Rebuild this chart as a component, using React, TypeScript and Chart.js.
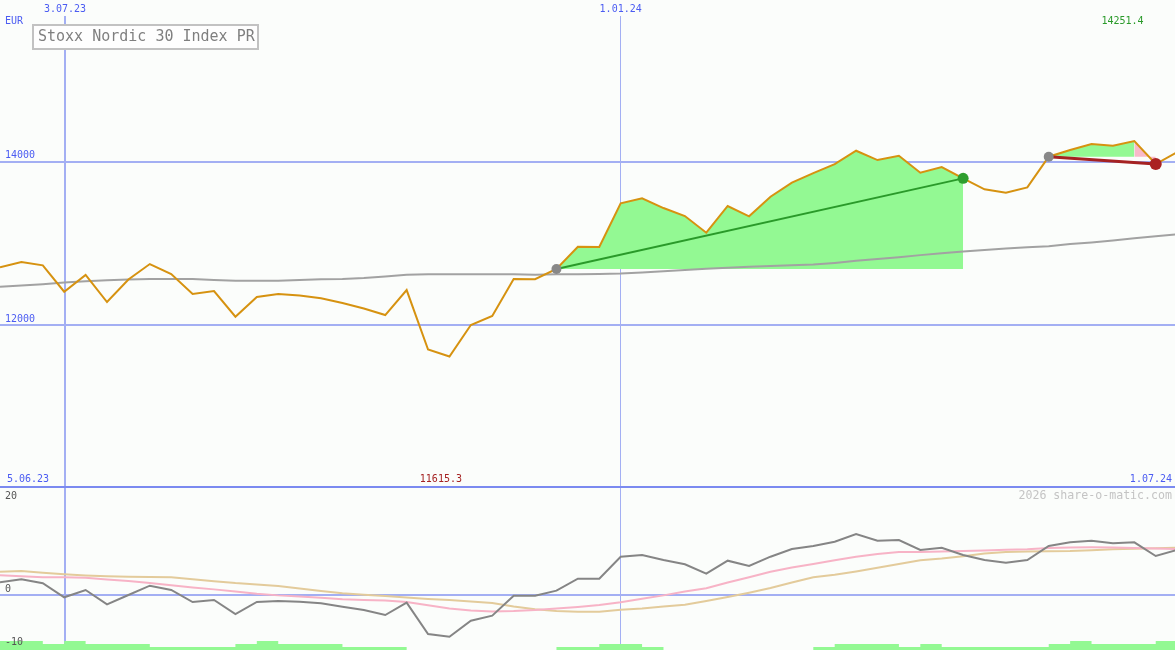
import { useEffect, useRef } from 'react';
import Chart from 'chart.js/auto';

const MONO = '"DejaVu Sans Mono", "Liberation Mono", monospace';
const BLUE_TEXT = '#4b5cf2';
const GRID = '#a3aff3';

// x axis is in weeks, week 0 ~ mid June 2023
const weeksShown = 54.9;
const dateTicks = [3.04, 29];
const dateLabels = ['3.07.23', '1.01.24'];
const dateLineWidths = [2, 1];

const priceTicks = [12000, 14000];

// weekly closes
const closes = [
  12706, 12771, 12730, 12407, 12612, 12281, 12557, 12746, 12624, 12379,
  12416, 12102, 12343, 12379, 12361, 12327, 12269, 12202, 12122, 12428,
  11700, 11615, 12000, 12110, 12563, 12560, 12685, 12958, 12955, 13489,
  13550, 13431, 13333, 13129, 13456, 13330, 13569, 13741, 13859, 13969,
  14132, 14018, 14071, 13863, 13933, 13794, 13660, 13618, 13684, 14059,
  14141, 14214, 14193, 14251, 13969, 14113,
];

const movingAvg = [
  12469, 12485, 12500, 12520, 12535, 12548, 12558, 12563, 12563, 12563,
  12550, 12542, 12542, 12542, 12550, 12560, 12563, 12575, 12595, 12615,
  12620, 12620, 12620, 12620, 12620, 12615, 12620, 12622, 12625, 12630,
  12644, 12658, 12673, 12687, 12701, 12713, 12722, 12731, 12740, 12760,
  12785, 12808, 12830, 12855, 12877, 12900, 12917, 12935, 12950, 12965,
  12990, 13010, 13035, 13060, 13085, 13110,
];

// trade signals (week index)
const entryWeeks = [26, 49];
const exitWeeks = [45, 54];

// lower panel
const momentum = [
  2.65, 3.27, 2.44, -0.48, 1.04, -1.94, 0, 1.94, 1.04, -1.46,
  -1.04, -3.96, -1.46, -1.25, -1.4, -1.73, -2.44, -3.13, -4.17, -1.6,
  -8.13, -8.69, -5.35, -4.31, -0.15, -0.15, 0.9, 3.4, 3.4, 7.98,
  8.33, 7.29, 6.4, 4.44, 7.15, 6.04, 7.98, 9.58, 10.21, 11.1,
  12.71, 11.31, 11.46, 9.38, 9.85, 8.33, 7.29, 6.73, 7.29, 10.21,
  10.98, 11.31, 10.77, 10.98, 8.13, 9.38,
];

const signalFast = [
  4.1, 3.9, 3.7, 3.7, 3.6, 3.25, 2.9, 2.5, 2.04, 1.56,
  1.17, 0.73, 0.25, -0.08, -0.29, -0.56, -0.88, -1.04, -1.17, -1.44,
  -2.15, -2.79, -3.21, -3.42, -3.33, -3.13, -2.83, -2.5, -2.08, -1.5,
  -0.79, -0.08, 0.71, 1.42, 2.6, 3.71, 4.85, 5.73, 6.44, 7.25,
  7.96, 8.52, 8.96, 8.96, 9.06, 9.19, 9.29, 9.42, 9.54, 9.79,
  9.92, 9.94, 9.92, 9.81, 9.67, 9.58,
];

const signalSlow = [
  4.85, 5.0, 4.65, 4.33, 4.08, 3.9, 3.79, 3.73, 3.69, 3.29,
  2.88, 2.48, 2.21, 1.85, 1.33, 0.85, 0.38, 0.04, -0.23, -0.52,
  -0.81, -1.04, -1.35, -1.67, -2.42, -2.98, -3.33, -3.48, -3.48, -3.08,
  -2.83, -2.42, -2.02, -1.23, -0.42, 0.48, 1.46, 2.6, 3.69, 4.23,
  4.9, 5.67, 6.46, 7.23, 7.6, 8.08, 8.63, 8.94, 9.06, 9.13,
  9.17, 9.33, 9.54, 9.65, 9.75, 9.85,
];

// volume level per week (drawn as steps)
const volumeSteps = [
  3, 3, 2, 3, 2, 2, 2, 1, 1, 1,
  1, 2, 3, 2, 2, 2, 1, 1, 1, 0,
  0, 0, 0, 0, 0, 0, 1, 1, 2, 2,
  1, 0, 0, 0, 0, 0, 0, 0, 1, 2,
  2, 2, 1, 2, 1, 1, 1, 1, 1, 2,
  3, 2, 2, 2, 3,
];

const pts = (values: number[], from = 0) => values.map((y, i) => ({ x: i + from, y }));
const NONE = 'rgba(0,0,0,0)';

// scales must not reserve room for their labels: the plot fills the canvas
const noPadding = (s: any) => {
  s.paddingTop = 0;
  s.paddingBottom = 0;
  s.paddingLeft = 0;
  s.paddingRight = 0;
};

const xAxis = (position: 'top' | 'bottom', height: number) => ({
  type: 'linear' as const,
  position,
  min: 0,
  max: weeksShown,
  afterFit: (s: any) => { s.height = height; noPadding(s); },
  afterBuildTicks: (s: any) => { s.ticks = dateTicks.map((value) => ({ value })); },
  grid: {
    color: GRID,
    lineWidth: (ctx: any) => dateLineWidths[ctx.index] ?? 1,
    drawTicks: false,
  },
  border: { display: false },
  ticks: {
    display: position === 'top',
    padding: 1,
    maxRotation: 0,
    autoSkip: false,
    color: BLUE_TEXT,
    font: { family: MONO, size: 10 },
    callback: (_v: any, i: number) => dateLabels[i],
  },
});

const topText = {
  id: 'topText',
  afterDraw(chart: any) {
    const { ctx, chartArea, scales } = chart;
    ctx.save();
    ctx.font = `10px ${MONO}`;
    ctx.textBaseline = 'middle';
    ctx.fillStyle = BLUE_TEXT;
    ctx.textAlign = 'left';
    ctx.fillText('EUR', 5, 21);
    ctx.fillText('5.06.23', 7, chartArea.bottom - 7);
    ctx.textAlign = 'right';
    ctx.fillText('1.07.24', 1172, chartArea.bottom - 7);
    ctx.textAlign = 'center';
    ctx.fillStyle = '#2a9a2a';
    ctx.fillText('14251.4', scales.x.getPixelForValue(52.45), 21);
    ctx.fillStyle = '#a52222';
    ctx.fillText('11615.3', scales.x.getPixelForValue(20.6), chartArea.bottom - 7);

    // title box
    ctx.fillStyle = '#fefefe';
    ctx.fillRect(33, 25, 225, 24);
    ctx.strokeStyle = '#c2c2c2';
    ctx.lineWidth = 2;
    ctx.strokeRect(33, 25, 225, 24);
    ctx.font = `15px ${MONO}`;
    ctx.fillStyle = '#7f7f7f';
    ctx.textAlign = 'left';
    ctx.fillText('Stoxx Nordic 30 Index PR', 38, 37.5);
    ctx.restore();
  },
};

const bottomText = {
  id: 'bottomText',
  afterDraw(chart: any) {
    const { ctx, chartArea } = chart;
    ctx.save();
    ctx.textBaseline = 'middle';
    ctx.font = `10px ${MONO}`;
    ctx.fillStyle = '#555555';
    ctx.textAlign = 'left';
    ctx.fillText('20', 5, chartArea.top + 8);
    ctx.fillText('-10', 5, chartArea.bottom - 8);
    ctx.font = `11.6px ${MONO}`;
    ctx.fillStyle = '#c4c4c4';
    ctx.textAlign = 'right';
    ctx.fillText('2026 share-o-matic.com', 1172, chartArea.top + 8);
    ctx.restore();
  },
};

export default function App() {
  const topRef = useRef<HTMLCanvasElement>(null);
  const bottomRef = useRef<HTMLCanvasElement>(null);

  useEffect(() => {
    if (!topRef.current || !bottomRef.current) return;

    const markerWeeks = [entryWeeks[0], exitWeeks[0], entryWeeks[1], exitWeeks[1]];

    const top = new Chart(topRef.current, {
      type: 'line',
      data: {
        datasets: [
          {
            label: 'signals',
            data: markerWeeks.map((w) => ({ x: w, y: closes[w] })),
            showLine: false,
            pointRadius: [5, 5.5, 5, 6],
            pointBackgroundColor: ['#888888', '#2e9e2e', '#888888', '#aa2222'],
            pointBorderColor: ['#888888', '#2e9e2e', '#888888', '#aa2222'],
            pointBorderWidth: 0,
          },
          {
            label: 'trade 1',
            data: [entryWeeks[0], exitWeeks[0]].map((w) => ({ x: w, y: closes[w] })),
            borderColor: '#2a9a2a',
            borderWidth: 2,
            pointRadius: 0,
          },
          {
            label: 'trade 2',
            data: [entryWeeks[1], exitWeeks[1]].map((w) => ({ x: w, y: closes[w] })),
            borderColor: '#a52222',
            borderWidth: 3,
            pointRadius: 0,
          },
          {
            label: 'close',
            data: pts(closes),
            borderColor: '#d69210',
            borderWidth: 2,
            pointRadius: 0,
          },
          {
            label: 'average',
            data: pts(movingAvg),
            borderColor: '#a2a2a2',
            borderWidth: 2,
            pointRadius: 0,
          },
          {
            label: 'gain 1',
            data: pts(closes.slice(entryWeeks[0], exitWeeks[0] + 1), entryWeeks[0]),
            fill: { value: closes[entryWeeks[0]] },
            backgroundColor: '#93f993',
            borderColor: NONE,
            borderWidth: 0,
            pointRadius: 0,
          },
          {
            label: 'gain 2',
            data: pts(closes.slice(entryWeeks[1], 54), entryWeeks[1]),
            fill: { value: closes[entryWeeks[1]] },
            backgroundColor: '#93f993',
            borderColor: NONE,
            borderWidth: 0,
            pointRadius: 0,
          },
          {
            label: 'loss 2',
            data: pts(closes.slice(53, exitWeeks[1] + 1), 53),
            fill: { value: closes[entryWeeks[1]] },
            backgroundColor: '#f9b9c9',
            borderColor: NONE,
            borderWidth: 0,
            pointRadius: 0,
          },
        ],
      },
      options: {
        animation: false,
        responsive: true,
        maintainAspectRatio: false,
        events: [],
        layout: { padding: 0, autoPadding: false },
        plugins: { legend: { display: false }, tooltip: { enabled: false } },
        scales: {
          x: xAxis('top', 16) as any,
          y: {
            type: 'linear',
            position: 'left',
            min: 10031,
            max: 15780,
            afterFit: (s: any) => { s.width = 0; noPadding(s); },
            afterBuildTicks: (s: any) => { s.ticks = priceTicks.map((value) => ({ value })); },
            grid: { color: GRID, lineWidth: 2, drawTicks: false },
            border: { display: false },
            ticks: {
              mirror: true,
              padding: 5,
              labelOffset: -6,
              color: BLUE_TEXT,
              font: { family: MONO, size: 10 },
              callback: (v: any) => String(v),
            },
          },
        },
      },
      plugins: [topText],
    });

    const volumeData = pts(volumeSteps);
    volumeData.push({ x: volumeSteps.length, y: volumeSteps[volumeSteps.length - 1] });

    const bottom = new Chart(bottomRef.current, {
      type: 'line',
      data: {
        datasets: [
          { label: 'momentum', data: pts(momentum), borderColor: '#858585', borderWidth: 2, pointRadius: 0 },
          { label: 'fast', data: pts(signalFast), borderColor: '#f7b3c6', borderWidth: 2, pointRadius: 0 },
          { label: 'slow', data: pts(signalSlow), borderColor: '#e3cb9b', borderWidth: 2, pointRadius: 0 },
          {
            label: 'volume',
            data: volumeData,
            yAxisID: 'yv',
            stepped: 'before',
            fill: 'start',
            backgroundColor: '#93f993',
            borderColor: NONE,
            borderWidth: 0,
            pointRadius: 0,
          },
        ],
      },
      options: {
        animation: false,
        responsive: true,
        maintainAspectRatio: false,
        events: [],
        layout: { padding: 0, autoPadding: false },
        plugins: { legend: { display: false }, tooltip: { enabled: false } },
        scales: {
          x: xAxis('bottom', 0) as any,
          y: {
            type: 'linear',
            position: 'left',
            min: -11.46,
            max: 22.29,
            afterFit: (s: any) => { s.width = 0; noPadding(s); },
            afterBuildTicks: (s: any) => { s.ticks = [{ value: 0 }]; },
            grid: { color: GRID, lineWidth: 2, drawTicks: false },
            border: { display: false },
            ticks: {
              mirror: true,
              padding: 5,
              labelOffset: -6,
              color: '#555555',
              font: { family: MONO, size: 10 },
            },
          },
          yv: { type: 'linear', display: false, min: 0, max: 54 },
        },
      },
      plugins: [bottomText],
    });

    return () => {
      top.destroy();
      bottom.destroy();
    };
  }, []);

  return (
    <div style={{ position: 'fixed', left: 0, top: 0, width: 1175, height: 650, background: '#fbfdfb' }}>
      <div style={{ position: 'relative', width: 1175, height: 486 }}>
        <canvas ref={topRef} />
      </div>
      <div style={{ height: 2, background: '#7b8af0' }} />
      <div style={{ position: 'relative', width: 1175, height: 162 }}>
        <canvas ref={bottomRef} />
      </div>
    </div>
  );
}
